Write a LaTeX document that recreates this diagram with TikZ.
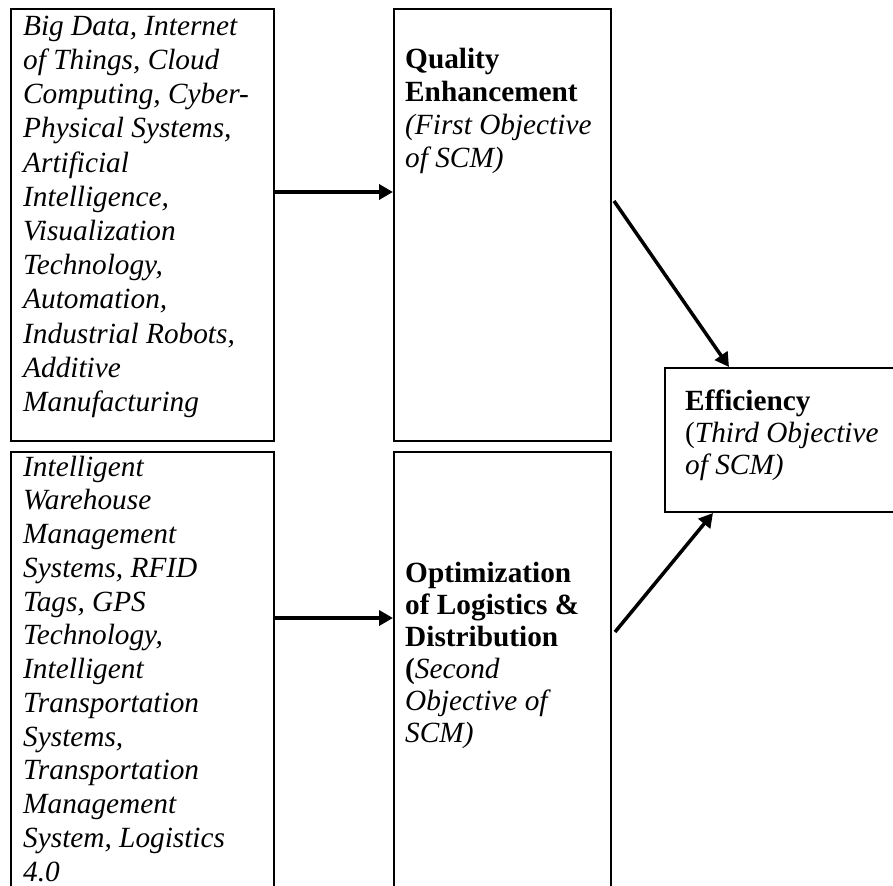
\documentclass[tikz,border=0pt]{standalone}
\usepackage{fontspec}
\setmainfont{Liberation Serif}
\usetikzlibrary{arrows.meta}
\newcommand\firstln{\rule{0pt}{25pt}}
\begin{document}
\begin{tikzpicture}[x=1pt,y=-1pt,
  box/.style={draw,line width=2pt,rectangle,inner sep=0pt,anchor=north west},
  txt/.style={anchor=north west,inner sep=0pt,align=left,
              font=\fontsize{29.3}{#1}\selectfont},
  arr/.style={line width=3.5pt,-{Triangle[length=14pt,width=15pt]}}]
\useasboundingbox (0,0) rectangle (893,885);
\clip (0,0) rectangle (893,885);

% boxes
\node[box,minimum width=263pt,minimum height=432pt] (b1) at (10,8) {};
\node[box,minimum width=217pt,minimum height=432pt] (b2) at (393,8) {};
\node[box,minimum width=260pt,minimum height=144pt] (eff) at (664,367) {};
\node[box,minimum width=263pt,minimum height=460pt] (b4) at (10,451) {};
\node[box,minimum width=217pt,minimum height=460pt] (b5) at (393,451) {};

% texts
\node[txt=34.2] (t1) at (23,10) {\firstln\itshape Big Data, Internet\\
  \itshape of Things, Cloud\\ \itshape Computing, Cyber-\\
  \itshape Physical Systems,\\ \itshape Artificial\\ \itshape Intelligence,\\
  \itshape Visualization\\ \itshape Technology,\\ \itshape Automation,\\
  \itshape Industrial Robots,\\ \itshape Additive\\ \itshape Manufacturing};
\node[txt=33] (t2) at (405,43) {\firstln\bfseries Quality\\ \bfseries Enhancement\\
  \itshape (First Objective\\ \itshape of SCM)};
\node[txt=32] (t3) at (685,385) {\firstln\bfseries Efficiency\\
  (\itshape Third Objective\\ \itshape of SCM)};
\node[txt=33.75] (t4) at (23,451) {\firstln\itshape Intelligent\\ \itshape Warehouse\\
  \itshape Management\\ \itshape Systems, RFID\\ \itshape Tags, GPS\\
  \itshape Technology,\\ \itshape Intelligent\\ \itshape Transportation\\
  \itshape Systems,\\ \itshape Transportation\\ \itshape Management\\
  \itshape System, Logistics\\ \itshape 4.0};
\node[txt=32] (t5) at (405,557) {\firstln\bfseries Optimization\\
  \bfseries of Logistics \&\\ \bfseries Distribution\\
  \bfseries(\itshape\mdseries Second\\ \itshape Objective of\\ \itshape SCM)};

% connectors
\coordinate (ya) at (0,192);
\coordinate (yb) at (0,618);
\draw[arr] (b1.east |- ya) -- (b2.west |- ya);
\draw[arr] (b4.east |- yb) -- (b5.west |- yb);
\draw[arr] ([xshift=2pt,yshift=-193pt]b2.north east) -- ([xshift=65pt]eff.north west);
\draw[arr] ([xshift=3pt,yshift=-181pt]b5.north east) -- ([xshift=49pt]eff.south west);
\end{tikzpicture}
\end{document}
